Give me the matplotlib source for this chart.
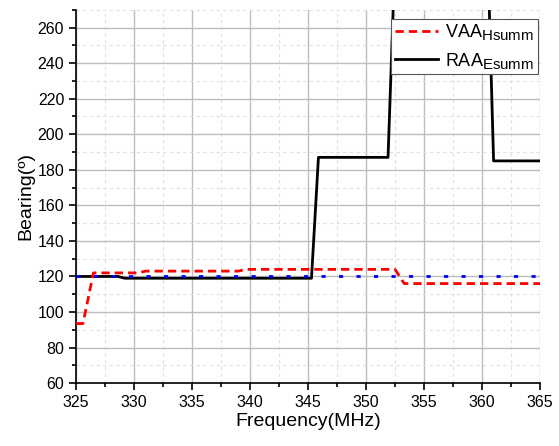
import numpy as np
import matplotlib
matplotlib.use('Agg')
import matplotlib.pyplot as plt
import matplotlib._mathtext as mathtext
from matplotlib.ticker import MultipleLocator

plt.rcParams['font.family'] = ['Liberation Sans', 'DejaVu Sans']
plt.rcParams['mathtext.fontset'] = 'custom'
plt.rcParams['mathtext.rm'] = 'Liberation Sans'
mathtext.SHRINK_FACTOR = 0.83  # bigger subscripts like the original

# VAA_Hsumm (red dashed)
vaa_f = [325.0, 325.6, 326.5, 330.3, 331.0, 339.0, 339.6, 352.5, 353.3, 365.0]
vaa_b = [93.5, 93.5, 122.0, 122.0, 123.0, 123.0, 124.0, 124.0, 116.0, 116.0]

# RAA_Esumm (black solid)
raa_f = [325.0, 328.6, 329.2, 345.3, 345.9, 351.9, 352.5, 360.5, 361.0, 365.0]
raa_b = [120.0, 120.0, 119.0, 119.0, 187.0, 187.0, 300.0, 300.0, 185.0, 185.0]

# reference (blue dotted)
ref_f = [325.0, 365.0]
ref_b = [120.0, 120.0]

fig = plt.figure(figsize=(5.59, 4.46), dpi=100)
ax = fig.add_axes([0.136, 0.141, 0.830, 0.837])

ax.plot(ref_f, ref_b, color='blue', lw=2, dashes=(1.5, 4.8), zorder=3)
ax.plot(vaa_f, vaa_b, color='red', lw=2, dashes=(3, 1.8), label=r'VAA$_{\rm Hsumm}$', zorder=4)
ax.plot(raa_f, raa_b, color='black', lw=2, label=r'RAA$_{\rm Esumm}$', zorder=2)

ax.set_xlim(325, 365)
ax.set_ylim(60, 270)
ax.xaxis.set_major_locator(MultipleLocator(5))
ax.xaxis.set_minor_locator(MultipleLocator(2.5))
ax.yaxis.set_major_locator(MultipleLocator(20))
ax.yaxis.set_minor_locator(MultipleLocator(10))

ax.grid(which='major', color='#bdbdbd', lw=1, ls='-')
ax.grid(which='minor', color='#e0e0e0', lw=0.8, ls=(0, (3, 3)))
ax.set_axisbelow(True)

for s in ['top', 'right']:
    ax.spines[s].set_visible(False)
ax.spines['left'].set_linewidth(1.2)
ax.spines['bottom'].set_linewidth(1.2)
ax.tick_params(which='major', direction='out', length=5, width=1.2, labelsize=11.5)
ax.tick_params(which='minor', direction='out', length=3, width=1.2)

ax.set_xlabel('Frequency(MHz)', fontsize=14, labelpad=2)
ax.set_ylabel('Bearing(º)', fontsize=14, labelpad=2)

leg = ax.legend(loc='upper right', fontsize=13, handlelength=2.4, fancybox=False,
                framealpha=1, edgecolor='#555555', borderpad=0.2, labelspacing=0.45,
                handletextpad=0.4, borderaxespad=0, bbox_to_anchor=(0.995, 0.976))
leg.get_frame().set_linewidth(0.8)

fig.savefig('out.png', dpi=100)
